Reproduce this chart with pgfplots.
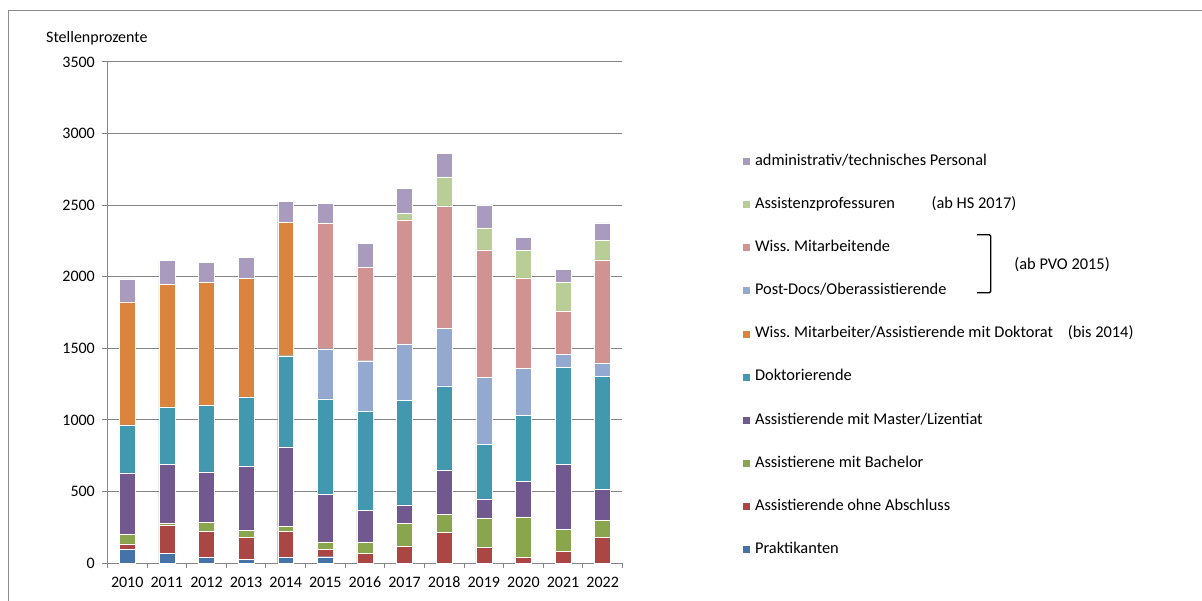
\documentclass[border=0pt]{standalone}
\usepackage{fontspec}
\setmainfont{Carlito}
\usepackage{pgfplots}
\pgfplotsset{compat=1.18}
\usepackage{pgfplotstable}
\definecolor{cPrakt}{HTML}{4572A7}
\definecolor{cOhne}{HTML}{AA4643}
\definecolor{cBach}{HTML}{89A54E}
\definecolor{cMaster}{HTML}{71588F}
\definecolor{cDoktor}{HTML}{4198AF}
\definecolor{cOrange}{HTML}{DB843D}
\definecolor{cPostdoc}{HTML}{93A9CF}
\definecolor{cWiss}{HTML}{D19392}
\definecolor{cAssprof}{HTML}{B9CD96}
\definecolor{cAdmin}{HTML}{A99BBD}
\definecolor{gridgray}{HTML}{868686}
\definecolor{framegray}{HTML}{8C8C8C}

\pgfplotstableread{
x prakt ohne bach master doktor orange postdoc wissmit assprof admin
0  98  35  67 430 335 859   0   0   0 161
1  70 196   9 415 401 854   0   0   0 168
2  42 180  60 355 464 858   0   0   0 140
3  28 152  49 450 482 826   0   0   0 147
4  42 180  32 558 636 931   0   0   0 147
5  44  54  49 336 664   0 350 875   0 142
6   0  70  77 221 691   0 354 653   0 168
7   0 117 158 131 732   0 392 867  47 173
8   0 212 128 308 590   0 404 853 203 166
9   0 110 205 133 382   0 469 888 154 161
10  0  40 282 247 464   0 329 630 191  91
11  0  82 151 457 679   0  91 301 198  93
12  0 180 116 219 791   0  91 720 138 121
}\datatable

\begin{document}
\frenchspacing
\fontsize{12}{14.4}\selectfont
\begin{tikzpicture}[x=1pt,y=1pt]
\useasboundingbox (-80.625,-28.125) rectangle (821.625,422.625);
\draw[framegray, line width=0.75pt] (-73.875,-28.125) -- (-73.875,414.375) -- (821.625,414.375);
\begin{axis}[
  at={(0,0)}, anchor=south west,
  scale only axis, width=386.625pt, height=376.125pt,
  ybar stacked, bar width=12pt,
  xmin=-0.5, xmax=12.5, ymin=0, ymax=3500,
  enlargelimits=false,
  axis lines*=left,
  axis line style={draw=gridgray, line width=0.75pt},
  ytick={0,500,...,3500},
  xtick={-0.5,0.5,...,12.5}, xticklabels={},
  extra x ticks={0,1,2,3,4,5,6,7,8,9,10,11,12},
  extra x tick labels={2010,2011,2012,2013,2014,2015,2016,2017,2018,2019,2020,2021,2022},
  extra x tick style={major tick length=0pt, xticklabel style={yshift=-6pt}},
  ymajorgrids, grid style={draw=gridgray, line width=0.75pt},
  tick align=outside, major tick length=3.75pt,
  tick style={draw=gridgray, line width=0.75pt},
  /pgf/number format/assume math mode=true,
  yticklabel style={/pgf/number format/1000 sep={}, xshift=-1.5pt},
  ylabel={Stellenprozente},
  ylabel style={rotate=-90, at={(axis description cs:-0.0204,1.048)}, anchor=center},
  legend style={at={(axis description cs:1.2309,0.8185)}, anchor=north west,
    draw=none, fill=none, inner sep=0pt, row sep=20.4pt, column sep=3.75pt,
    font=\fontsize{12.3}{14.4}\selectfont,
    nodes={inner sep=0pt, text height=9pt, text depth=3pt}},
  legend cell align=left, reverse legend,
  legend image code/.code={\fill[#1] (0pt,-3pt) rectangle (6pt,3pt);},
  every axis plot/.append style={draw=white, line width=0.3pt},
]
\addplot[fill=cPrakt] table[x=x,y=prakt] {\datatable};
\addlegendentry{Praktikanten}
\addplot[fill=cOhne] table[x=x,y=ohne] {\datatable};
\addlegendentry{Assistierende ohne Abschluss}
\addplot[fill=cBach] table[x=x,y=bach] {\datatable};
\addlegendentry{Assistierene mit Bachelor}
\addplot[fill=cMaster] table[x=x,y=master] {\datatable};
\addlegendentry{Assistierende mit Master/Lizentiat}
\addplot[fill=cDoktor] table[x=x,y=doktor] {\datatable};
\addlegendentry{Doktorierende}
\addplot[fill=cOrange] table[x=x,y=orange] {\datatable};
\addlegendentry{\makebox[234.8pt][l]{Wiss. Mitarbeiter/Assistierende mit Doktorat}(bis 2014)}
\addplot[fill=cPostdoc] table[x=x,y=postdoc] {\datatable};
\addlegendentry{Post-Docs/Oberassistierende}
\addplot[fill=cWiss] table[x=x,y=wissmit] {\datatable};
\addlegendentry{Wiss. Mitarbeitende}
\addplot[fill=cAssprof] table[x=x,y=assprof] {\datatable};
\addlegendentry{\makebox[132.5pt][l]{Assistenzprofessuren}(ab HS 2017)}
\addplot[fill=cAdmin] table[x=x,y=admin] {\datatable};
\addlegendentry{administrativ/technisches Personal}
\end{axis}
\draw[black, line width=1pt, rounded corners=1pt] (652.9,246.4) -- (663,246.4) -- (663,202.9) -- (652.9,202.9);
\node[anchor=west, inner sep=0pt, font=\fontsize{12.3}{14.4}\selectfont] at (680.6,223.9) {(ab PVO 2015)};
\end{tikzpicture}
\end{document}
